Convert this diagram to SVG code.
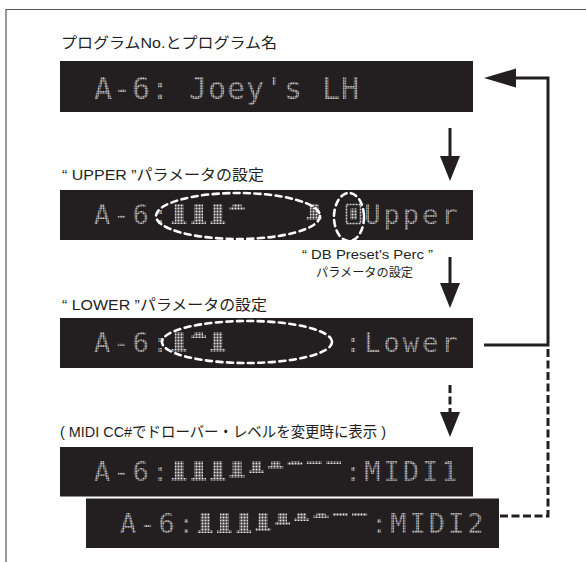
<svg xmlns="http://www.w3.org/2000/svg" width="586" height="562" viewBox="0 0 586 562">
<defs>
<pattern id="dots" width="3" height="3" patternUnits="userSpaceOnUse"><rect x="0.5" y="0.5" width="2" height="2" fill="#e4e4e4"/></pattern>
<pattern id="tdots" width="2.5" height="2.5" patternUnits="userSpaceOnUse"><rect x="0.3" y="0.3" width="1.7" height="1.7" fill="#f2f2f2"/></pattern>
</defs>
<style>
.frame{fill:none;stroke:#555;stroke-width:1.2}
.lcd{fill:#231f20}
.lbl{font-family:"Liberation Sans","Noto Sans CJK JP",sans-serif;font-size:15px;fill:#231f20}
.small{font-size:12.5px}
.dm{font-family:"DejaVu Sans Mono","Liberation Mono",monospace;font-size:27px;letter-spacing:3.04px;fill:url(#tdots)}
.big{font-size:30px;letter-spacing:0.94px}
.bar{fill:url(#dots)}
.oval{fill:none;stroke:#fff;stroke-width:2.6;stroke-dasharray:6 4.5;stroke-linecap:round}
.con{fill:none;stroke:#231f20;stroke-width:3}
.dash{stroke-dasharray:8 3.5}
.head{fill:#231f20}
</style>
<path class="frame" d="M6,562 V9.5 H586"/>

<g id="title"><text class="lbl" x="61" y="48" textLength="216" lengthAdjust="spacingAndGlyphs">プログラムNo.とプログラム名</text></g>

<g id="box1">
<rect class="lcd" x="60" y="61" width="413" height="51"/>
<text class="dm big" x="94" y="99">A-6: Joey's LH</text>
</g>

<g id="upper">
<text class="lbl" x="62" y="180" textLength="202" lengthAdjust="spacingAndGlyphs">“ UPPER ”パラメータの設定</text>
<rect class="lcd" x="60" y="190" width="413" height="50"/>
<text class="dm" x="94" y="224">A-6:</text>
<text class="dm" x="364.2" y="224">Upper</text>
<g class="bar">
<rect x="174.7" y="204" width="9" height="17"/><rect x="171.7" y="221" width="15" height="3"/>
<rect x="194" y="204" width="9" height="17"/><rect x="191" y="221" width="15" height="3"/>
<rect x="213.3" y="204" width="9" height="17"/><rect x="210.3" y="221" width="15" height="3"/>
<rect x="232.6" y="204" width="9" height="3"/><rect x="229.6" y="207" width="15" height="3"/>
<rect x="309.8" y="204" width="9" height="13"/><rect x="306.8" y="217" width="15" height="3"/>
<rect x="350" y="208.5" width="7" height="11"/>
</g>
<rect x="346.5" y="204.5" width="14" height="19" fill="none" stroke="#d2d2d2" stroke-width="1.6" stroke-dasharray="2 1"/>
<ellipse class="oval" cx="238" cy="216" rx="82" ry="23"/>
<ellipse class="oval" cx="349" cy="217" rx="15" ry="24"/>
</g>

<g id="percLabel">
<text class="lbl small" x="302" y="259" textLength="131" lengthAdjust="spacingAndGlyphs">“ DB Preset's Perc ”</text>
<text class="lbl small" x="316" y="277" textLength="97" lengthAdjust="spacingAndGlyphs">パラメータの設定</text>
</g>

<g id="lower">
<text class="lbl" x="62" y="310" textLength="205" lengthAdjust="spacingAndGlyphs">“ LOWER ”パラメータの設定</text>
<rect class="lcd" x="60" y="318" width="413" height="50"/>
<text class="dm" x="94" y="352">A-6:</text>
<text class="dm" x="344.9" y="352">:Lower</text>
<g class="bar">
<rect x="174.7" y="332" width="9" height="17"/><rect x="171.7" y="349" width="15" height="3"/>
<rect x="194" y="332" width="9" height="3"/><rect x="191" y="335" width="15" height="3"/>
<rect x="213.3" y="332" width="9" height="17"/><rect x="210.3" y="349" width="15" height="3"/>
</g>
<ellipse class="oval" cx="247" cy="342" rx="85" ry="21"/>
</g>

<g id="midiLabel"><text class="lbl" x="60" y="437" textLength="326" lengthAdjust="spacingAndGlyphs">( MIDI CC#でドローバー・レベルを変更時に表示 )</text></g>

<g id="midi1">
<rect class="lcd" x="60" y="447" width="413" height="49.5"/>
<text class="dm" x="94" y="481">A-6:</text>
<text class="dm" x="344.9" y="481">:MIDI1</text>
<g class="bar">
<rect x="174.7" y="461" width="9" height="17"/><rect x="171.7" y="478" width="15" height="3"/>
<rect x="194" y="461" width="9" height="17"/><rect x="191" y="478" width="15" height="3"/>
<rect x="213.3" y="461" width="9" height="17"/><rect x="210.3" y="478" width="15" height="3"/>
<rect x="232.6" y="461" width="9" height="14"/><rect x="229.6" y="475" width="15" height="3"/>
<rect x="251.9" y="461" width="9" height="9"/><rect x="248.9" y="470" width="15" height="3"/>
<rect x="271.2" y="461" width="9" height="5"/><rect x="268.2" y="466" width="15" height="3"/>
<rect x="290.5" y="461" width="9" height="1"/><rect x="287.5" y="462" width="15" height="3"/>
<rect x="306.8" y="461" width="15" height="3"/>
<rect x="326.1" y="461" width="15" height="3"/>
</g>
</g>

<g id="midi2">
<rect class="lcd" x="86" y="498.5" width="413" height="49.5"/>
<text class="dm" x="120" y="533">A-6:</text>
<text class="dm" x="370.9" y="533">:MIDI2</text>
<g class="bar">
<rect x="200.7" y="513" width="9" height="17"/><rect x="197.7" y="530" width="15" height="3"/>
<rect x="220" y="513" width="9" height="17"/><rect x="217" y="530" width="15" height="3"/>
<rect x="239.3" y="513" width="9" height="17"/><rect x="236.3" y="530" width="15" height="3"/>
<rect x="258.6" y="513" width="9" height="15"/><rect x="255.6" y="528" width="15" height="3"/>
<rect x="277.9" y="513" width="9" height="9"/><rect x="274.9" y="522" width="15" height="3"/>
<rect x="297.2" y="513" width="9" height="5"/><rect x="294.2" y="518" width="15" height="3"/>
<rect x="316.5" y="513" width="9" height="2"/><rect x="313.5" y="515" width="15" height="3"/>
<rect x="332.8" y="513" width="15" height="3"/>
<rect x="352.1" y="513" width="15" height="3"/>
</g>
</g>

<g id="connectors">
<line class="con" x1="450" y1="128" x2="450" y2="157"/>
<path class="head" d="M440,156 L460,156 L450,181 Z"/>
<line class="con" x1="450" y1="257" x2="450" y2="284"/>
<path class="head" d="M440,283 L460,283 L450,308 Z"/>
<line class="con dash" x1="450" y1="385" x2="450" y2="413"/>
<path class="head" d="M440,412 L460,412 L450,437 Z"/>
<path class="con" d="M484,345 H548 V78 H515"/>
<path class="head" d="M516,68.5 L516,87.5 L484,78 Z"/>
<path class="con dash" d="M500,516 H548 V347"/>
</g>
</svg>
